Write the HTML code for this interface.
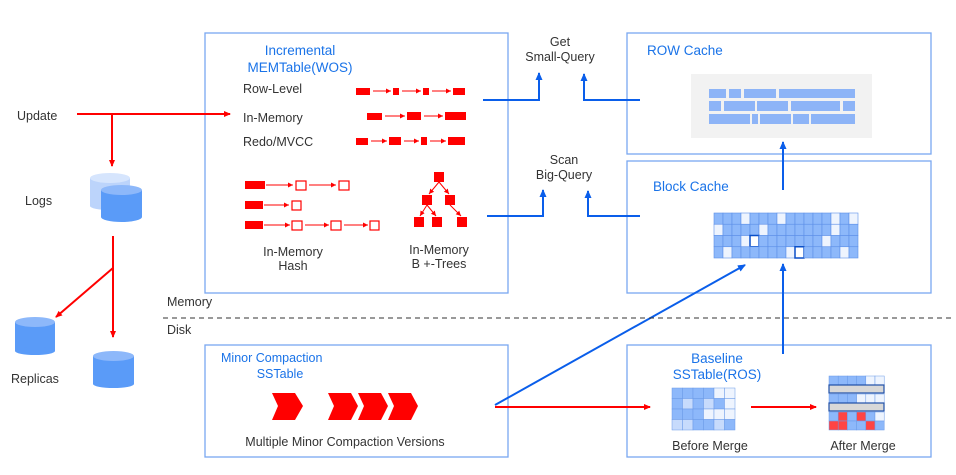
<!DOCTYPE html>
<html><head><meta charset="utf-8"><style>
body{margin:0;background:#fff}
text{font-family:"Liberation Sans",sans-serif;font-size:12.5px;fill:#333}
.b{fill:#1a73e8}
</style></head><body>
<svg width="956" height="470" xmlns="http://www.w3.org/2000/svg">
<defs>
<marker id="r" markerWidth="8" markerHeight="8" refX="6" refY="3" orient="auto" markerUnits="userSpaceOnUse"><path d="M0,0 L7,3 L0,6z" fill="#f00"/></marker>
<marker id="rs" markerWidth="6" markerHeight="6" refX="5" refY="2.5" orient="auto" markerUnits="userSpaceOnUse"><path d="M0,0 L5,2.5 L0,5z" fill="#f00"/></marker>
<marker id="bl" markerWidth="9" markerHeight="9" refX="7" refY="3.5" orient="auto" markerUnits="userSpaceOnUse"><path d="M0,0 L8,3.5 L0,7z" fill="#0a5eea"/></marker>
</defs>
<g fill="none" stroke="#7aa7f0" stroke-width="1.3">
<rect x="205" y="33" width="303" height="260"/>
<rect x="627" y="33" width="304" height="121"/>
<rect x="627" y="161" width="304" height="132"/>
<rect x="205" y="345" width="303" height="112"/>
<rect x="627" y="345" width="304" height="112"/>
</g>
<text class="b" x="300" y="55" text-anchor="middle" style="fill:#1a73e8;font-size:13.5px">Incremental</text>
<text x="300" y="72" text-anchor="middle" style="fill:#1a73e8;font-size:13.5px">MEMTable(WOS)</text>
<text x="243" y="93">Row-Level</text>
<text x="243" y="122">In-Memory</text>
<text x="243" y="146">Redo/MVCC</text>
<g fill="#f00">
<rect x="356" y="88" width="14" height="7"/><rect x="393" y="88" width="6" height="7"/><rect x="423" y="88" width="6" height="7"/><rect x="453" y="88" width="12" height="7"/>
<rect x="367" y="113" width="15" height="7"/><rect x="407" y="112" width="14" height="8"/><rect x="445" y="112" width="21" height="8"/>
<rect x="356" y="138" width="12" height="7"/><rect x="389" y="137" width="12" height="8"/><rect x="421" y="137" width="6" height="8"/><rect x="448" y="137" width="17" height="8"/>
<rect x="245" y="181" width="20" height="8"/><rect x="245" y="201" width="18" height="8"/><rect x="245" y="221" width="18" height="8"/>
<rect x="434" y="172" width="10" height="10"/><rect x="422" y="195" width="10" height="10"/><rect x="445" y="195" width="10" height="10"/>
<rect x="414" y="217" width="10" height="10"/><rect x="432" y="217" width="10" height="10"/><rect x="457" y="217" width="10" height="10"/>
</g>
<g stroke="#f00" stroke-width="1" marker-end="url(#rs)">
<line x1="373" y1="91" x2="391" y2="91"/><line x1="402" y1="91" x2="421" y2="91"/><line x1="432" y1="91" x2="451" y2="91"/>
<line x1="385" y1="116" x2="405" y2="116"/><line x1="424" y1="116" x2="443" y2="116"/>
<line x1="371" y1="141" x2="387" y2="141"/><line x1="404" y1="141" x2="419" y2="141"/><line x1="430" y1="141" x2="446" y2="141"/>
<line x1="266" y1="185" x2="293" y2="185"/><line x1="309" y1="185" x2="336" y2="185"/>
<line x1="264" y1="205" x2="289" y2="205"/>
<line x1="264" y1="225" x2="290" y2="225"/><line x1="305" y1="225" x2="329" y2="225"/><line x1="344" y1="225" x2="368" y2="225"/>
<line x1="439" y1="182" x2="429" y2="194"/><line x1="439" y1="182" x2="449" y2="194"/>
<line x1="427" y1="205" x2="420" y2="216"/><line x1="427" y1="205" x2="436" y2="216"/><line x1="450" y1="205" x2="461" y2="216"/>
</g>
<g fill="none" stroke="#f00" stroke-width="1.2">
<rect x="296" y="181" width="10" height="9"/><rect x="339" y="181" width="10" height="9"/>
<rect x="292" y="201" width="9" height="9"/>
<rect x="292" y="221" width="10" height="9"/><rect x="331" y="221" width="10" height="9"/><rect x="370" y="221" width="9" height="9"/>
</g>
<text x="293" y="256" text-anchor="middle">In-Memory</text>
<text x="293" y="270" text-anchor="middle">Hash</text>
<text x="439" y="254" text-anchor="middle">In-Memory</text>
<text x="439" y="268" text-anchor="middle">B +-Trees</text>

<text x="560" y="46" text-anchor="middle">Get</text>
<text x="560" y="61" text-anchor="middle">Small-Query</text>
<text x="564" y="164" text-anchor="middle">Scan</text>
<text x="564" y="179" text-anchor="middle">Big-Query</text>
<g fill="none" stroke="#0a5eea" stroke-width="2" marker-end="url(#bl)">
<polyline points="483,100 539,100 539,73"/>
<polyline points="640,100 584,100 584,74"/>
<polyline points="487,216 543,216 543,190"/>
<polyline points="640,216 588,216 588,191"/>
<line x1="783" y1="190" x2="783" y2="142"/>
<line x1="783" y1="354" x2="783" y2="264"/>
<line x1="495" y1="405" x2="745" y2="265"/>
</g>

<text x="647" y="55" style="fill:#1a73e8;font-size:13.5px">ROW Cache</text>
<rect x="691" y="74" width="181" height="64" fill="#f2f2f2"/>
<g fill="#8db4f7">
<rect x="709" y="89" width="17" height="9"/><rect x="729" y="89" width="12" height="9"/><rect x="744" y="89" width="32" height="9"/><rect x="779" y="89" width="76" height="9"/>
<rect x="709" y="101" width="12" height="10"/><rect x="724" y="101" width="31" height="10"/><rect x="757" y="101" width="31" height="10"/><rect x="791" y="101" width="49" height="10"/><rect x="843" y="101" width="12" height="10"/>
<rect x="709" y="114" width="41" height="10"/><rect x="752" y="114" width="6" height="10"/><rect x="760" y="114" width="31" height="10"/><rect x="793" y="114" width="16" height="10"/><rect x="811" y="114" width="44" height="10"/>
</g>
<text x="653" y="191" style="fill:#1a73e8;font-size:13.5px">Block Cache</text>
<g id="grid"></g>

<text x="167" y="306">Memory</text>
<text x="167" y="334">Disk</text>
<line x1="163" y1="318" x2="952" y2="318" stroke="#333" stroke-dasharray="5,4" stroke-width="1"/>

<text x="221" y="362" style="fill:#1a73e8">Minor Compaction</text>
<text x="280" y="378" text-anchor="middle" style="fill:#1a73e8">SSTable</text>
<g fill="#f00">
<path d="M272,393 L295,393 L303,406 L295,420 L272,420 L278,406z"/>
<path d="M328,393 L351,393 L358,406 L351,420 L328,420 L334,406z"/>
<path d="M358,393 L381,393 L388,406 L381,420 L358,420 L364,406z"/>
<path d="M388,393 L411,393 L418,406 L411,420 L388,420 L394,406z"/>
</g>
<text x="345" y="446" text-anchor="middle">Multiple Minor Compaction Versions</text>

<text x="717" y="363" text-anchor="middle" style="fill:#1a73e8;font-size:13.5px">Baseline</text>
<text x="717" y="379" text-anchor="middle" style="fill:#1a73e8;font-size:13.5px">SSTable(ROS)</text>
<g id="bm"></g>
<g id="am"></g>
<text x="710" y="450" text-anchor="middle">Before Merge</text>
<text x="863" y="450" text-anchor="middle">After Merge</text>
<g stroke="#f00" stroke-width="2" marker-end="url(#r)">
<line x1="495" y1="407" x2="650" y2="407"/>
<line x1="751" y1="407" x2="816" y2="407"/>
</g>

<text x="17" y="120">Update</text>
<text x="25" y="205">Logs</text>
<text x="11" y="383">Replicas</text>
<g stroke="#f00" stroke-width="2" fill="none">
<line x1="77" y1="114" x2="230" y2="114" marker-end="url(#r)"/>
<line x1="112" y1="114" x2="112" y2="166" marker-end="url(#r)"/>
<line x1="113" y1="236" x2="113" y2="337" marker-end="url(#r)"/>
<line x1="113" y1="268" x2="56" y2="317" marker-end="url(#r)"/>
</g>
<g>
<rect x="90" y="178" width="40" height="28" fill="#bcd4fb"/><ellipse cx="110" cy="206" rx="20" ry="4" fill="#bcd4fb"/><ellipse cx="110" cy="178" rx="20" ry="5" fill="#d6e5fd"/>
<rect x="101" y="190" width="41" height="27" fill="#5a9bf8"/><ellipse cx="121.5" cy="217" rx="20.5" ry="5" fill="#5a9bf8"/><ellipse cx="121.5" cy="190" rx="20.5" ry="5" fill="#8db8fa"/>
<rect x="15" y="322" width="40" height="29" fill="#5a9bf8"/><ellipse cx="35" cy="351" rx="20" ry="4" fill="#5a9bf8"/><ellipse cx="35" cy="322" rx="20" ry="5" fill="#8db8fa"/>
<rect x="93" y="356" width="41" height="28" fill="#5a9bf8"/><ellipse cx="113.5" cy="384" rx="20.5" ry="4" fill="#5a9bf8"/><ellipse cx="113.5" cy="356" rx="20.5" ry="5" fill="#8db8fa"/>
</g>
</svg>
<script>
var ns="http://www.w3.org/2000/svg";
function R(g,x,y,w,h,f,s,sw){var r=document.createElementNS(ns,"rect");r.setAttribute("x",x);r.setAttribute("y",y);r.setAttribute("width",w);r.setAttribute("height",h);r.setAttribute("fill",f);if(s){r.setAttribute("stroke",s);r.setAttribute("stroke-width",sw||0.6);}g.appendChild(r);}
var g=document.getElementById("grid");
var light={"0,3":1,"0,7":1,"0,13":1,"0,15":1,"1,0":1,"1,5":1,"1,13":1,"2,3":1,"2,12":1,"3,1":1,"3,8":1,"3,14":1};
var wb={"2,4":1,"3,9":1};
for(var r=0;r<4;r++)for(var c=0;c<16;c++){var k=r+","+c;
if(wb[k])R(g,714+c*9,213+r*11.25,9,11.25,"#fff","#0a4fc8",1.5);
else R(g,714+c*9,213+r*11.25,9,11.25,light[k]?"#eef4fe":"#8db8fa","#5d8fe8",0.6);}
var b=document.getElementById("bm");
var bc=[["#8db8fa","#8db8fa","#8db8fa","#8db8fa","#eef4fe","#eef4fe"],["#8db8fa","#c7dbfc","#8db8fa","#c7dbfc","#8db8fa","#eef4fe"],["#8db8fa","#8db8fa","#8db8fa","#eef4fe","#eef4fe","#eef4fe"],["#c7dbfc","#c7dbfc","#8db8fa","#8db8fa","#c7dbfc","#8db8fa"]];
for(var r=0;r<4;r++)for(var c=0;c<6;c++)R(b,672+c*10.5,388+r*10.5,10.5,10.5,bc[r][c],"#6a9ae8",0.5);
var a=document.getElementById("am");
var rows=[["#8db8fa","#8db8fa","#8db8fa","#8db8fa","#eef4fe","#eef4fe"],null,["#8db8fa","#8db8fa","#8db8fa","#eef4fe","#eef4fe","#eef4fe"],null,["#8db8fa","#f44","#8db8fa","#f44","#8db8fa","#eef4fe"],["#f44","#f44","#8db8fa","#8db8fa","#f44","#8db8fa"]];
for(var r=0;r<6;r++){if(!rows[r]){R(a,829,376+r*9,55,8,"#d8d8d8","#1f4fa8",1.2);continue;}
for(var c=0;c<6;c++)R(a,829+c*9.2,376+r*9,9.2,9,rows[r][c],"#6a9ae8",0.5);}
</script>
</body></html>
